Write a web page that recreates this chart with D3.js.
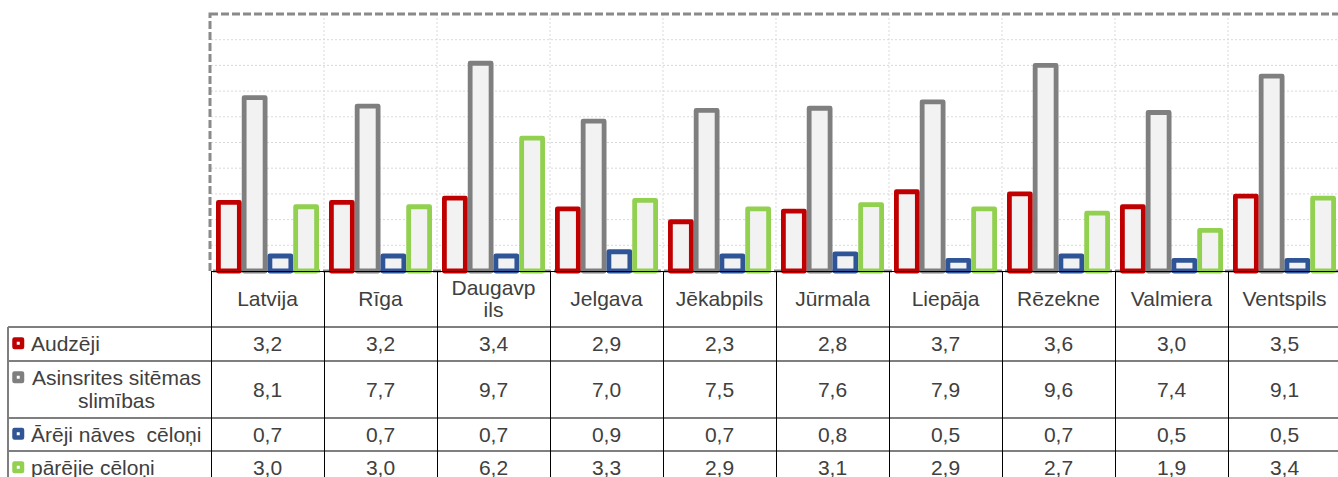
<!DOCTYPE html>
<html><head><meta charset="utf-8">
<script src="https://cdn.jsdelivr.net/npm/d3@7"></script>
<style>
html,body{margin:0;padding:0;background:#fff;}
svg{display:block;font-family:"Liberation Sans",Arial,sans-serif;}
text{white-space:pre;}
</style></head>
<body>
<svg id="c" width="1338" height="477"></svg>
<script>
const categories = ["Latvija","Rīga","Daugavpils","Jelgava","Jēkabpils","Jūrmala","Liepāja","Rēzekne","Valmiera","Ventspils"];
const categoryLines = [["Latvija"],["Rīga"],["Daugavp","ils"],["Jelgava"],["Jēkabpils"],["Jūrmala"],["Liepāja"],["Rēzekne"],["Valmiera"],["Ventspils"]];
const seriesNames = ["Audzēji","Asinsrites sitēmas slimības","Ārēji nāves  cēloņi","pārējie cēloņi"];
const seriesLines = [["Audzēji"],["Asinsrites sitēmas","slimības"],["Ārēji nāves  cēloņi"],["pārējie cēloņi"]];
const audzeji   = [3.2,3.2,3.4,2.9,2.3,2.8,3.7,3.6,3.0,3.5];
const asinsrites= [8.1,7.7,9.7,7.0,7.5,7.6,7.9,9.6,7.4,9.1];
const areji     = [0.7,0.7,0.7,0.9,0.7,0.8,0.5,0.7,0.5,0.5];
const parejie   = [3.0,3.0,6.2,3.3,2.9,3.1,2.9,2.7,1.9,3.4];
const seriesValues = [audzeji, asinsrites, areji, parejie];
const colors = ["#c00000","#7f7f7f","#2f5597","#92d050"];
const yMax = 12, yStep = 1.2;

const svg = d3.select("#c");
const L = 211, R = 1341, T = 14, B = 271;
const TXT = "#404040";
const FS = 21;

const x0 = d3.scaleBand().domain(categories).range([L, R]).padding(0);
const bw = x0.bandwidth();
const x1 = d3.scaleBand().domain(d3.range(seriesValues.length)).range([5, bw - 5]).padding(0);
const y = d3.scaleLinear().domain([0, yMax]).range([B, T]);

// gridlines
const gTicks = d3.range(1, Math.round(yMax / yStep)).map(i => i * yStep);
svg.append("g").selectAll("line").data(gTicks).join("line")
  .attr("x1", L).attr("x2", R)
  .attr("y1", d => y(d)).attr("y2", d => y(d))
  .attr("stroke", "#d9d9d9").attr("stroke-width", 1).attr("stroke-dasharray", "2,2");
svg.append("g").selectAll("line").data(categories.slice(1)).join("line")
  .attr("x1", d => x0(d)).attr("x2", d => x0(d))
  .attr("y1", T).attr("y2", B)
  .attr("stroke", "#d9d9d9").attr("stroke-width", 1).attr("stroke-dasharray", "2,2");

// plot border dashed
svg.append("rect").attr("x", L - 1).attr("y", T).attr("width", R - L + 1).attr("height", B - T)
  .attr("fill", "none").attr("stroke", "#8a8a8a").attr("stroke-width", 3).attr("stroke-dasharray", "8,3");

// bars
const sw = 4.8;
const groups = svg.append("g").selectAll("g").data(categories).join("g")
  .attr("transform", d => `translate(${x0(d)},0)`);
groups.selectAll("rect").data((c, ci) => seriesValues.map((s, si) => ({si, v: s[ci]}))).join("rect")
  .attr("x", d => x1(d.si) + sw / 2)
  .attr("width", x1.bandwidth() - sw)
  .attr("y", d => y(d.v))
  .attr("height", d => y(0) - y(d.v))
  .attr("fill", "#f2f2f2")
  .attr("stroke", d => colors[d.si])
  .attr("stroke-width", sw)
  .attr("stroke-linejoin", "round");

// baseline axis
const xAxis = d3.axisBottom(x0).tickSize(0).tickFormat("");
svg.append("g").attr("transform", `translate(0,${B})`).call(xAxis)
  .call(g => g.select(".domain").attr("stroke", "#000").attr("stroke-width", 1));

// table
const rowTops = [327, 361, 418, 451, 485];
const tableLeft = 8;
svg.append("g").selectAll("line").data(rowTops.slice(0, 4)).join("line")
  .attr("x1", tableLeft).attr("x2", R)
  .attr("y1", d => d).attr("y2", d => d)
  .attr("stroke", "#7f7f7f").attr("stroke-width", 2);
const vX = categories.map(c => x0(c)).concat([R]);
svg.append("g").selectAll("line").data(vX).join("line")
  .attr("x1", d => Math.round(d) + 0.5).attr("x2", d => Math.round(d) + 0.5)
  .attr("y1", B).attr("y2", 477)
  .attr("stroke", "#000").attr("stroke-width", 1);
svg.append("line").attr("x1", tableLeft).attr("x2", tableLeft).attr("y1", 327).attr("y2", 477)
  .attr("stroke", "#7f7f7f").attr("stroke-width", 2);

// category labels
const catMid = (B + 327) / 2;
const lh = 22;
categories.forEach((c, ci) => {
  const lines = categoryLines[ci];
  const t = svg.append("text").attr("x", x0(c) + bw / 2).attr("text-anchor", "middle")
    .attr("fill", TXT).attr("font-size", FS);
  lines.forEach((ln, li) => {
    t.append("tspan").attr("x", x0(c) + bw / 2)
      .attr("y", catMid + (li - (lines.length - 1) / 2) * lh)
      .attr("dy", "0.35em").text(ln);
  });
});

// rows
const fmt = v => d3.format(".1f")(v).replace(".", ",");
seriesValues.forEach((vals, si) => {
  const top = rowTops[si], bot = rowTops[si + 1];
  const mid = (top + bot) / 2;
  const lines = seriesLines[si];
  const firstY = mid - (lines.length - 1) / 2 * 23;
  svg.append("rect").attr("x", 14.5).attr("y", firstY - 4.5).attr("width", 7.5).attr("height", 7.5)
    .attr("fill", "#fff").attr("stroke", colors[si]).attr("stroke-width", 4.5).attr("stroke-linejoin","round");
  if (lines.length === 1) {
    svg.append("text").attr("x", 31).attr("y", firstY).attr("dy", "0.35em")
      .attr("xml:space", "preserve")
      .attr("fill", TXT).attr("font-size", FS).text(lines[0]);
  } else {
    const t = svg.append("text").attr("text-anchor", "middle").attr("fill", TXT).attr("font-size", FS);
    lines.forEach((ln, li) => {
      t.append("tspan").attr("x", 116.5).attr("y", firstY + li * 23).attr("dy", "0.35em").text(ln);
    });
  }
  svg.append("g").selectAll("text").data(vals).join("text")
    .attr("x", (d, i) => x0(categories[i]) + bw / 2)
    .attr("y", mid).attr("dy", "0.35em")
    .attr("text-anchor", "middle").attr("fill", TXT).attr("font-size", FS)
    .text(d => fmt(d));
});
</script>
</body></html>
